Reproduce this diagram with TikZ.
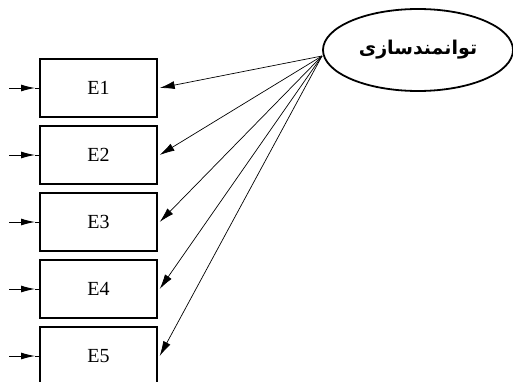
\documentclass[tikz,border=0pt]{standalone}
\usepackage{fontspec}
\setmainfont{Liberation Serif}
\newfontfamily\arabicfont[Script=Arabic]{DejaVu Sans}
\TeXXeTstate=1
\usetikzlibrary{arrows.meta,shapes.geometric}
\begin{document}
\begin{tikzpicture}[x=1pt,y=-1pt,
  evar/.style={draw,line width=1.4pt,minimum width=117pt,minimum height=58pt,inner sep=0pt,font=\fontsize{20}{22}\selectfont},
  load/.style={line width=0.7pt,-{Latex[length=15pt,width=8pt]}},
  err/.style={line width=0.9pt,-{Latex[length=14pt,width=7pt]}},
  lat/.style={draw,ellipse,line width=1.8pt,minimum width=190pt,minimum height=82pt,inner sep=0pt}]
\useasboundingbox (0,0) rectangle (513,382);
\clip (0,0) rectangle (513,382);
\node[lat] (F) at (418,50) {\arabicfont\bfseries\fontsize{19}{21}\selectfont\beginR توانمندسازی\endR};
\coordinate (S) at (322,56);
\foreach \i/\y in {1/88,2/155,3/222,4/289,5/356}{
  \node[evar] (E\i) at (98.5,\y) {E\i};
  \coordinate (L\i) at (9,\y);
  \coordinate (M\i) at (35,\y);
  \draw[err] (L\i) -- (M\i);
  \draw[line width=0.9pt] (M\i) -- (E\i.west);
  \draw[load] (S) -- ([xshift=2pt]E\i.east);
}
\end{tikzpicture}
\end{document}
